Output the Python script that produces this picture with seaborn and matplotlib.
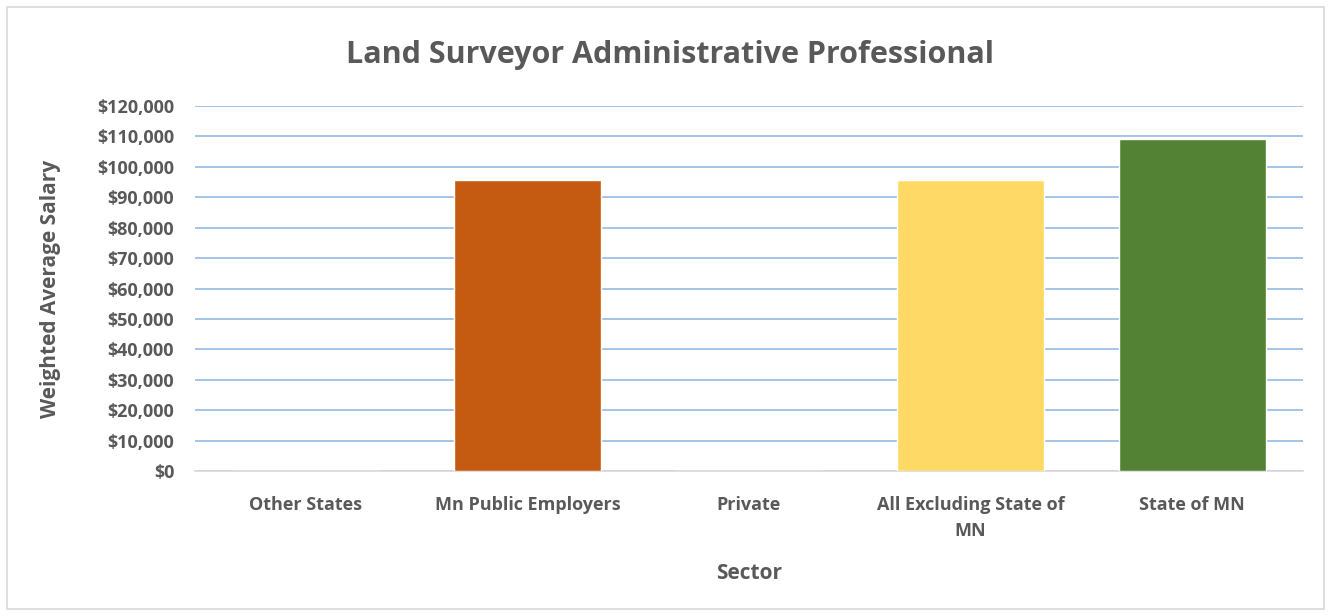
import matplotlib
matplotlib.use("Agg")
import matplotlib.pyplot as plt
import seaborn as sns
from matplotlib.ticker import FuncFormatter, FixedLocator
from matplotlib.patches import Rectangle

categories = ["Other States", "Mn Public Employers", "Private", "All Excluding State of\nMN", "State of MN"]
salaries = [0, 95700, 0, 95700, 109100]
colors = ["#4472C4", "#C55A11", "#A5A5A5", "#FFD966", "#548235"]

sns.set_theme(style="white")
plt.rcParams['font.family'] = ['Open Sans', 'DejaVu Sans']
text_color = "#595959"

fig = plt.figure(figsize=(13.31, 6.16), dpi=100)
ax = fig.add_axes([195/1331, 1 - 471/616, (1303-195)/1331, (471-106)/616])

sns.barplot(x=categories, y=salaries, hue=categories, palette=dict(zip(categories, colors)),
            legend=False, width=0.665, ax=ax, saturation=1, zorder=3)

ax.set_ylim(0, 120000)
ax.set_xlim(-0.5, 4.5)
ax.yaxis.set_major_locator(FixedLocator(list(range(0, 120001, 10000))))
ax.yaxis.set_major_formatter(FuncFormatter(lambda v, p: f"${int(v):,}"))
ax.grid(axis='y', color="#8DB4E2", linewidth=1.1, zorder=0)
ax.set_axisbelow(True)
for s in ['top', 'right', 'left']:
    ax.spines[s].set_visible(False)
ax.spines['bottom'].set_color("#D9D9D9")
ax.spines['bottom'].set_linewidth(1.2)

ax.tick_params(axis='y', length=0, pad=15, labelsize=13, labelcolor=text_color)
ax.tick_params(axis='x', which='major', length=0, pad=18, labelsize=13, labelcolor=text_color)
ax.set_xticks([-0.5, 0.5, 1.5, 2.5, 3.5, 4.5], minor=True)
ax.tick_params(axis='x', which='minor', length=7, color="#D9D9D9", width=1.2)
for lbl in ax.get_xticklabels() + ax.get_yticklabels():
    lbl.set_fontweight('bold')
for lbl in ax.get_xticklabels():
    lbl.set_linespacing(1.6)

ax.set_xlabel("Sector", fontsize=15, fontweight='bold', color=text_color, labelpad=16)
ax.set_ylabel("Weighted Average Salary", fontsize=15, fontweight='bold', color=text_color, labelpad=26)

fig.text(670/1331, 1 - 55/616, "Land Surveyor Administrative Professional", ha='center', va='center',
         fontsize=22, fontweight='bold', color=text_color)

fig.patches.append(Rectangle((7/1331, 7/616), 1317/1331, 602/616, transform=fig.transFigure,
                             fill=False, edgecolor="#D9D9D9", linewidth=1.2))

fig.savefig("out.png", dpi=100)
